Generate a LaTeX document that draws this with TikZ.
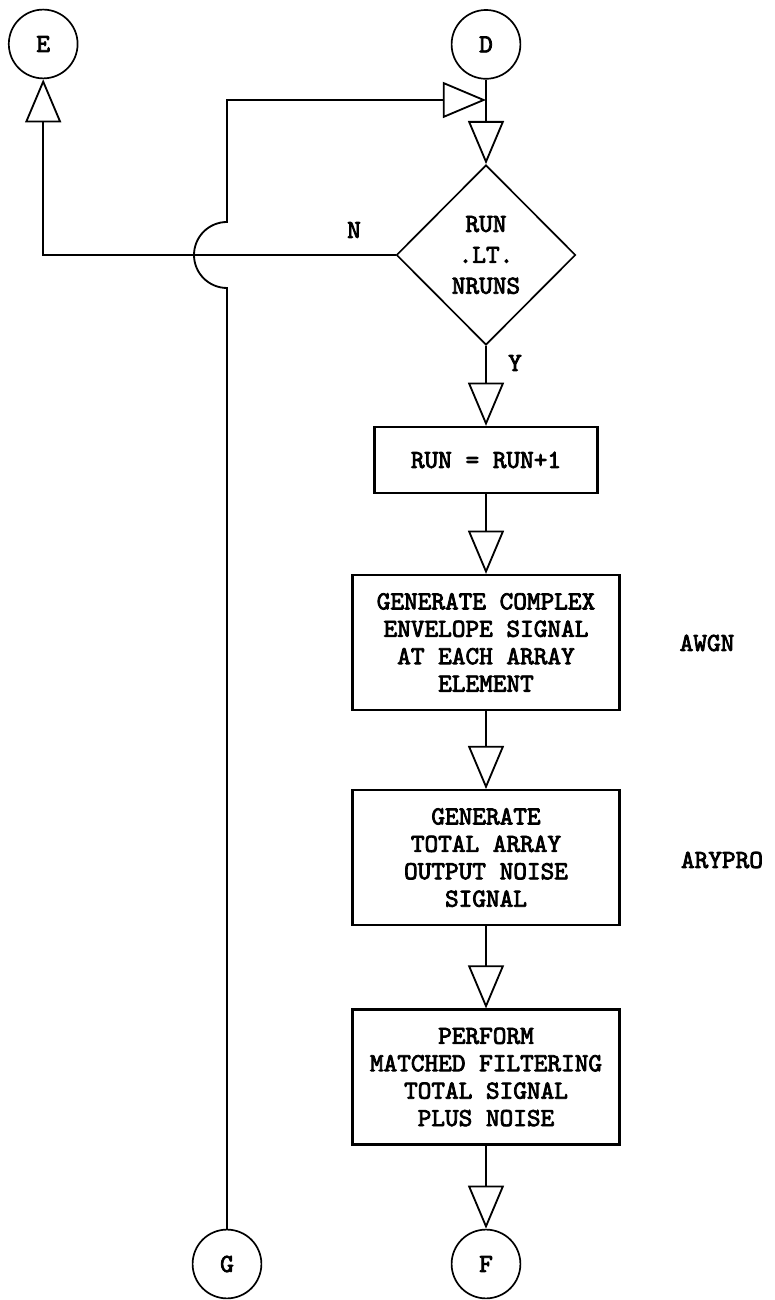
\documentclass[tikz,border=0pt]{standalone}
\usepackage{fontspec}
\setmonofont{lmmono10-regular}[Extension=.otf, FakeBold=3]
\usepackage{tikz}
\usetikzlibrary{arrows.meta, positioning, shapes.geometric}

\begin{document}
\begin{tikzpicture}[
    font=\ttfamily\fontsize{18.5}{19.5}\selectfont,
    conn/.style={circle, draw, line width=1.2pt, minimum size=1.72cm, inner sep=0pt},
    proc/.style={rectangle, draw, line width=1.6pt, minimum width=6.68cm, minimum height=3.37cm, align=center},
    decide/.style={diamond, draw, line width=1.2pt, minimum width=4.48cm, minimum height=4.5cm, inner sep=0pt, align=center,
        font=\ttfamily\fontsize{18.5}{22}\selectfont},
    flow/.style={-{Triangle[open, length=1.08cm, width=0.9cm]}, line width=1.3pt},
    wire/.style={line width=1.3pt}
]
\useasboundingbox (0,0) rectangle (19.375,32.5);

% Off-page connectors
\node[conn] (E) at (1.08, 31.4) {E};
\node[conn] (D) at (12.15, 31.39) {D};
\node[conn] (G) at (5.675, 0.9) {G};
\node[conn] (F) at (12.15, 0.9) {F};

% Loop test
\node[decide] (test) at (12.15, 26.125) {RUN\\.LT.\\NRUNS};
\node (N) at (8.85, 26.75) {N};
\node (Y) at (12.875, 23.425) {Y};

% Run counter
\node[proc, minimum width=5.58cm, minimum height=1.65cm] (incr) at (12.15, 21.0) {RUN = RUN+1};

% Signal generation
\node[proc] (signal) at (12.15, 16.44) {GENERATE COMPLEX\\ENVELOPE SIGNAL\\AT EACH ARRAY\\ELEMENT};
\node (awgn) at (17.675, 16.425) {AWGN};

% Array output
\node[proc] (noise) at (12.15, 11.06) {GENERATE\\TOTAL ARRAY\\OUTPUT NOISE\\SIGNAL};
\node (arypro) at (18.05, 11.0) {ARYPRO};

% Matched filter
\node[proc] (filter) at (12.15, 5.575) {PERFORM\\MATCHED FILTERING\\TOTAL SIGNAL\\PLUS NOISE};

% Junctions
\coordinate (join) at (12.15, 30);
\coordinate (elbow) at (1.08, 26.125);
\coordinate (hopbot) at (5.675, 25.3);
\coordinate (corner) at (5.675, 30);

% Arrows
\draw[wire] (D) -- (join);
\draw[flow] (join) -- (test);
\draw[flow] (test) -- (incr);
\draw[flow] (incr) -- (signal);
\draw[flow] (signal) -- (noise);
\draw[flow] (noise) -- (filter);
\draw[flow] (filter) -- (F);
\draw[flow] (test.west) -- (elbow) -- (E);
\draw[flow] (G) -- (hopbot) arc[start angle=-90, end angle=-270, radius=0.825cm] -- (corner) -- (join);

\end{tikzpicture}
\end{document}
